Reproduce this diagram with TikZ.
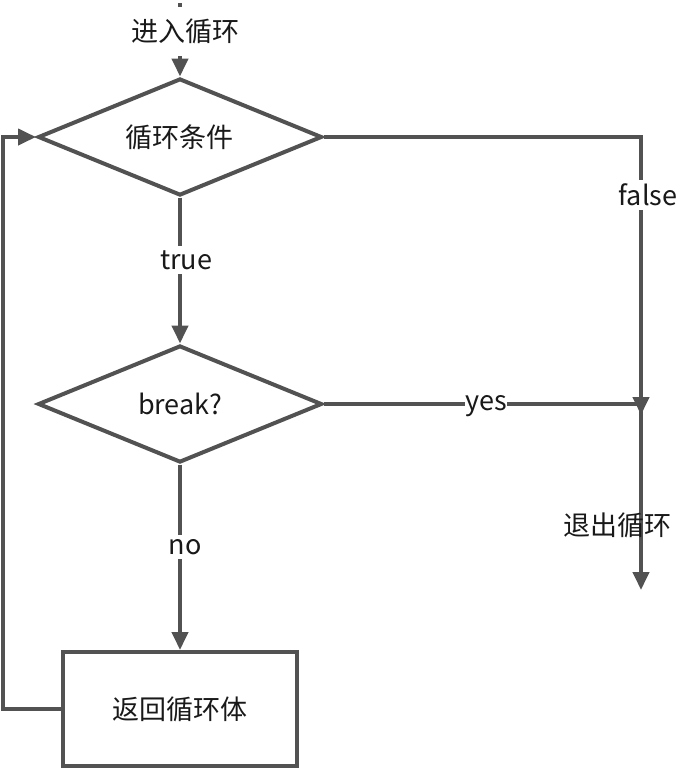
\documentclass[tikz,border=0pt]{standalone}
\usepackage{fontspec}
\setmainfont{Noto Sans CJK SC}
\usetikzlibrary{shapes.geometric,arrows.meta,positioning,calc}

\begin{document}
\begin{tikzpicture}[
                    x=0.5pt, y=-0.5pt,
                    every node/.style={font=\fontsize{13.5}{16}\selectfont, text=black!90},
                    cond/.style={draw=black!68, line width=2pt, diamond, shape aspect=2.43, inner sep=0pt, minimum width=142pt, minimum height=58.5pt},
                    box/.style={draw=black!68, line width=2pt, rectangle, minimum width=117pt, minimum height=57pt},
                    flow/.style={draw=black!68, line width=2pt, -{Triangle[length=9pt,width=8pt]}},
                    lbl/.style={fill=white, inner sep=2pt}
                ]
                    \useasboundingbox (0,0) rectangle (689,773);
                    \node[cond] (loop) at (180,137) {循环条件};
                    \node[cond] (brk) at (180,404) {break?};
                    \node[box] (body) at (180,709) {返回循环体};
                    \coordinate (start) at (180,3);
                    \coordinate (exit) at (641,590);
                    \coordinate (merge) at (641,415);
                    
                    \draw[flow] (start) -- (loop.north);
                    \draw[flow] (loop.south) -- (brk.north);
                    \draw[flow] (brk.south) -- (body.north);
                    \draw[flow] (body.west) -- ++(-58,0) |- (loop.west);
                    \draw[flow] (loop.east) -| (exit);
                    \draw[flow] (brk.east) -| (merge);
                    
                    \node[lbl, minimum height=24.5pt] (enter) at (186,31.5) {进入循环};
                    \node[lbl] (ltrue) at (186,260) {true};
                    \node[lbl] (lno) at (185,547) {no};
                    \node[lbl] (lfalse) at (648,195) {false};
                    \node[lbl, inner xsep=0pt] (lyes) at (486,406) {yes};
                    \node (done) at (617,525) {退出循环};
                \end{tikzpicture}
\end{document}
